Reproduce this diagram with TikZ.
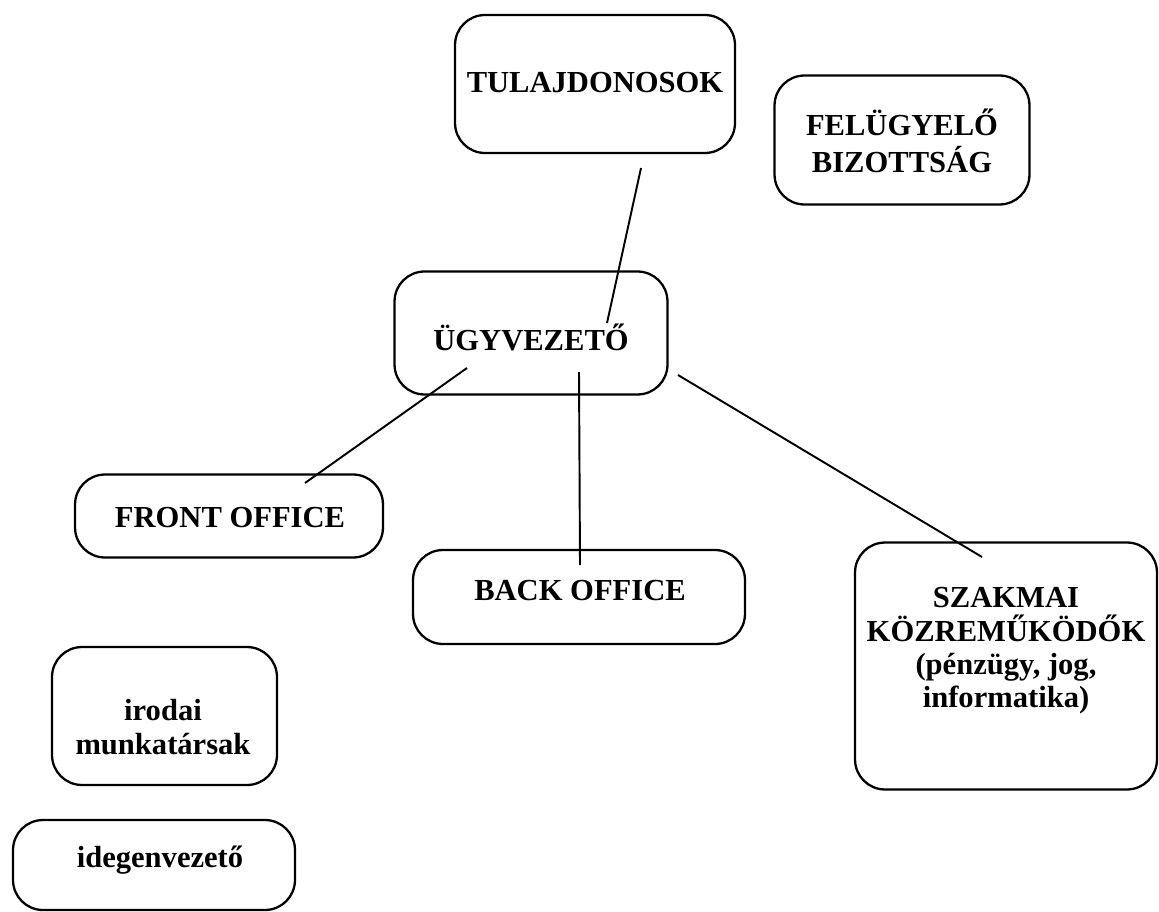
\documentclass[tikz,border=0pt]{standalone}
\usepackage{fontspec}
\setmainfont{Liberation Serif}
\begin{document}
\begin{tikzpicture}[x=0.02cm,y=-0.02cm,
  box/.style={draw, line width=1.3pt, rounded corners=0.6cm, inner sep=0pt},
  txt/.style={inner sep=0pt, align=center, font=\fontsize{17.4}{19}\selectfont\bfseries},
  conn/.style={line width=1.1pt}]
\useasboundingbox (0,0) rectangle (1159,912);

\node[box, minimum width=5.6cm, minimum height=2.76cm] (tul) at (595,84) {};
\node[txt] (tult) at (595,83) {TULAJDONOSOK};
\node[box, minimum width=5.1cm, minimum height=2.58cm] (fel) at (902,140) {};
\node[txt, font=\fontsize{17.4}{21}\selectfont\bfseries] (felt) at (902,141) {FELÜGYELŐ\\BIZOTTSÁG};
\node[box, minimum width=5.46cm, minimum height=2.46cm] (ugy) at (531,333) {};
\node[txt] (ugyt) at (531,337) {ÜGYVEZETŐ};
\node[box, minimum width=6.16cm, minimum height=1.66cm] (fro) at (229,516) {};
\node[txt] (frot) at (230,518) {FRONT OFFICE};
\node[box, minimum width=6.64cm, minimum height=1.88cm] (bac) at (579,597) {};
\node[txt] (bact) at (580,591) {BACK OFFICE};
\node[box, minimum width=6.04cm, minimum height=4.94cm] (sza) at (1006,666) {};
\node[txt] (szat) at (1006,651) {SZAKMAI\\KÖZREMŰKÖDŐK\\(pénzügy, jog,\\informatika)};
\node[box, minimum width=4.5cm, minimum height=2.76cm] (iro) at (164.5,716) {};
\node[txt] (irot) at (163,727) {irodai\\munkatársak};
\node[box, minimum width=5.64cm, minimum height=1.8cm] (ide) at (154,865) {};
\node[txt] (idet) at (160,860) {idegenvezető};

\coordinate (a1) at (641,168);
\coordinate (a2) at (607,323);
\coordinate (b1) at (467,368);
\coordinate (b2) at (305,483);
\coordinate (c1) at (579,372);
\coordinate (c2) at (580,565);
\coordinate (d1) at (678,375);
\coordinate (d2) at (982,557);

\draw[conn] (a1) -- (a2);
\draw[conn] (b1) -- (b2);
\draw[conn] (c1) -- (c2);
\draw[conn] (d1) -- (d2);
\end{tikzpicture}
\end{document}
